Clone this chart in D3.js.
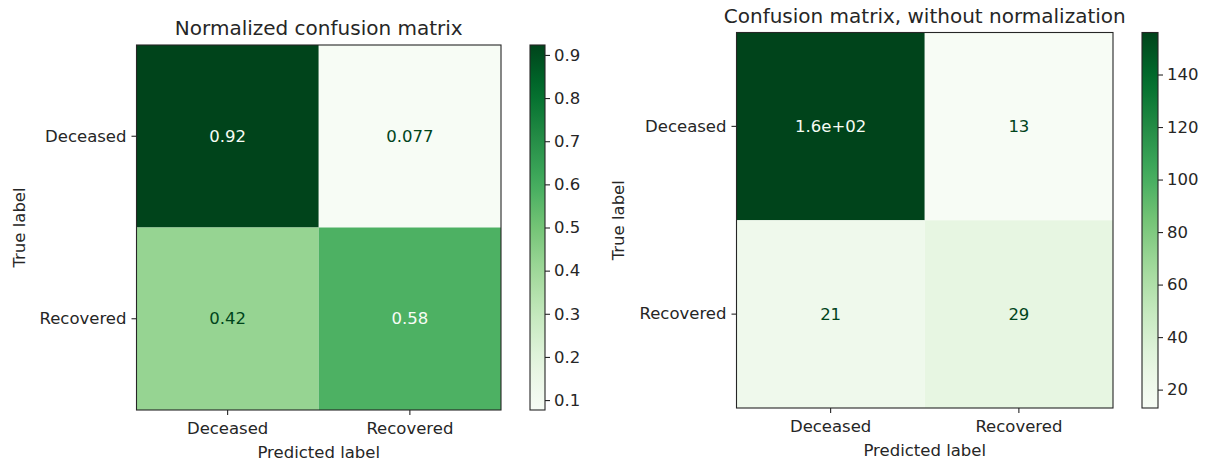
<!DOCTYPE html>
<html>
<head>
<meta charset="utf-8">
<script src="https://cdn.jsdelivr.net/npm/d3@7"></script>
<style>
  html, body { margin: 0; padding: 0; background: #fff; }
  svg { display: block; font-family: "DejaVu Sans", sans-serif; }
</style>
</head>
<body>
<svg id="chart" width="1208" height="464"></svg>
<script>
// ---- data ----
const categories = ["Deceased", "Recovered"];
const normalizedValues = [[0.923, 0.077], [0.42, 0.58]];
const countValues = [[156, 13], [21, 29]];
const normalizedTicks = [0.1, 0.2, 0.3, 0.4, 0.5, 0.6, 0.7, 0.8, 0.9];
const countTicks = [20, 40, 60, 80, 100, 120, 140];
const titles = ["Normalized confusion matrix", "Confusion matrix, without normalization"];
const xAxisLabel = "Predicted label";
const yAxisLabel = "True label";

// matplotlib "Greens" colormap anchors
const greens = ["#f7fcf5","#e5f5e0","#c7e9c0","#a1d99b","#74c476","#41ab5d","#238b45","#006d2c","#00441b"];

const svg = d3.select("#chart");
const defs = svg.append("defs");
const textColor = "#262626";
const FS = 16.5;   // tick / label font size
const TFS = 20;    // title font size

function fmt(v) {
  return d3.format(".2g")(v).replace(/e([+-])(\d)$/, "e$10$2");
}

function drawPanel(cfg) {
  const { values, ticks, title, box, cbar, id } = cfg;
  const flat = values.flat();
  const vmin = d3.min(flat), vmax = d3.max(flat);
  const cmap = d3.scaleLinear()
    .domain(d3.range(greens.length).map(i => vmin + (vmax - vmin) * i / (greens.length - 1)))
    .range(greens)
    .interpolate(d3.interpolateRgb);

  const x = d3.scaleBand().domain(categories).range([box.x0, box.x1]);
  const y = d3.scaleBand().domain(categories).range([box.y0, box.y1]);

  const g = svg.append("g");
  // cells
  values.forEach((row, i) => {
    row.forEach((v, j) => {
      g.append("rect")
        .attr("x", x(categories[j]))
        .attr("y", y(categories[i]))
        .attr("width", x.bandwidth())
        .attr("height", y.bandwidth())
        .attr("fill", cmap(v));
    });
  });
  // cell texts
  const thresh = (vmin + vmax) / 2;
  values.forEach((row, i) => {
    row.forEach((v, j) => {
      g.append("text")
        .attr("x", x(categories[j]) + x.bandwidth() / 2)
        .attr("y", y(categories[i]) + y.bandwidth() / 2)
        .attr("text-anchor", "middle")
        .attr("dominant-baseline", "central")
        .attr("font-size", FS)
        .attr("fill", v < thresh ? greens[8] : greens[0])
        .text(fmt(v));
    });
  });
  // axes
  const xAxis = d3.axisBottom(x).tickSize(5).tickPadding(5);
  const gx = g.append("g").attr("transform", `translate(0,${box.y1})`).call(xAxis);
  const yAxis = d3.axisLeft(y).tickSize(5).tickPadding(5);
  const gy = g.append("g").attr("transform", `translate(${box.x0},0)`).call(yAxis);
  [gx, gy].forEach(a => {
    a.select(".domain").remove();
    a.selectAll(".tick line").attr("stroke", textColor).attr("stroke-width", 1.1);
    a.selectAll(".tick text").attr("font-size", FS).attr("fill", textColor)
      .attr("font-family", "DejaVu Sans");
  });
  gx.selectAll(".tick text").attr("dy", "0.85em");
  // frame
  g.append("rect")
    .attr("x", box.x0).attr("y", box.y0)
    .attr("width", box.x1 - box.x0).attr("height", box.y1 - box.y0)
    .attr("fill", "none").attr("stroke", textColor).attr("stroke-width", 1.1);
  // title
  g.append("text")
    .attr("x", (box.x0 + box.x1) / 2).attr("y", box.y0 - 10)
    .attr("text-anchor", "middle").attr("font-size", TFS).attr("fill", textColor)
    .text(title);
  // axis labels
  g.append("text")
    .attr("x", (box.x0 + box.x1) / 2).attr("y", box.y1 + 48)
    .attr("text-anchor", "middle").attr("font-size", FS).attr("fill", textColor)
    .text(xAxisLabel);
  g.append("text")
    .attr("transform", `translate(${cfg.ylabX},${(box.y0 + box.y1) / 2}) rotate(-90)`)
    .attr("text-anchor", "middle").attr("font-size", FS).attr("fill", textColor)
    .text(yAxisLabel);

  // colorbar
  const cy = d3.scaleLinear().domain([vmin, vmax]).range([box.y1, box.y0]);
  const grad = defs.append("linearGradient").attr("id", id)
    .attr("x1", 0).attr("y1", 1).attr("x2", 0).attr("y2", 0);
  d3.range(0, 1.0001, 0.05).forEach(t => {
    grad.append("stop").attr("offset", t).attr("stop-color", cmap(vmin + (vmax - vmin) * t));
  });
  g.append("rect")
    .attr("x", cbar.x0).attr("y", box.y0)
    .attr("width", cbar.x1 - cbar.x0).attr("height", box.y1 - box.y0)
    .attr("fill", `url(#${id})`)
    .attr("stroke", textColor).attr("stroke-width", 1.1);
  const cAxis = d3.axisRight(cy).tickValues(ticks).tickSize(5).tickPadding(4)
    .tickFormat(d => d3.format("")(d));
  const gc = g.append("g").attr("transform", `translate(${cbar.x1},0)`).call(cAxis);
  gc.select(".domain").remove();
  gc.selectAll(".tick line").attr("stroke", textColor).attr("stroke-width", 1.1);
  gc.selectAll(".tick text").attr("font-size", FS).attr("fill", textColor)
    .attr("font-family", "DejaVu Sans");
}

drawPanel({
  id: "cb1",
  values: normalizedValues,
  ticks: normalizedTicks,
  title: titles[0],
  box: { x0: 136.5, x1: 501, y0: 45, y1: 410 },
  cbar: { x0: 530, x1: 545 },
  ylabX: 25
});
drawPanel({
  id: "cb2",
  values: countValues,
  ticks: countTicks,
  title: titles[1],
  box: { x0: 736.5, x1: 1113, y0: 32.5, y1: 408 },
  cbar: { x0: 1142, x1: 1158 },
  ylabX: 624
});
</script>
</body>
</html>
